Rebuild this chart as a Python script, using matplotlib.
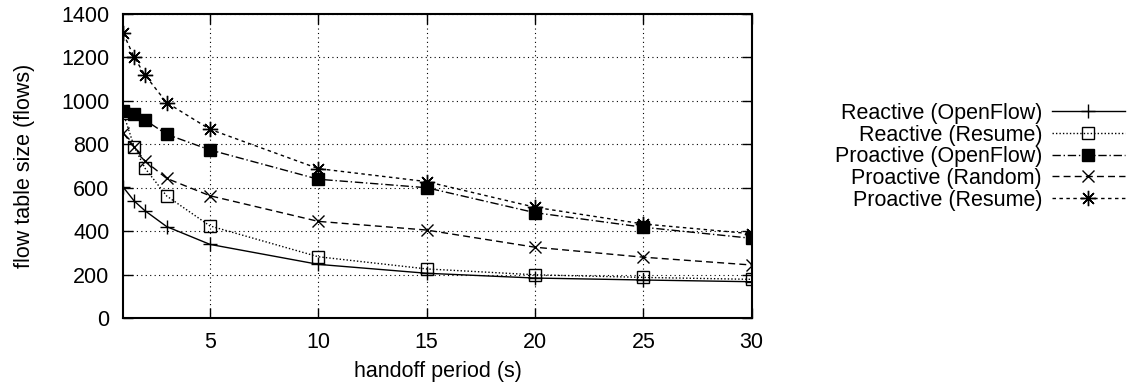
import matplotlib
matplotlib.use("Agg")
import matplotlib.pyplot as plt

plt.rcParams['font.family'] = ['Liberation Sans', 'DejaVu Sans']

x = [1, 1.5, 2, 3, 5, 10, 15, 20, 25, 30]
reactive_openflow = [602, 539, 494, 421, 339, 247, 206, 184, 175, 167]
reactive_resume = [943, 789, 690, 562, 424, 282, 226, 199, 187, 178]
proactive_openflow = [953, 938, 912, 846, 774, 639, 600, 485, 418, 367]
proactive_random = [851, 789, 723, 643, 563, 445, 405, 326, 280, 244]
proactive_resume = [1311, 1201, 1119, 992, 869, 688, 628, 510, 433, 388]

labels = ["Reactive (OpenFlow)", "Reactive (Resume)", "Proactive (OpenFlow)",
          "Proactive (Random)", "Proactive (Resume)"]
xticks = [5, 10, 15, 20, 25, 30]
yticks = [0, 200, 400, 600, 800, 1000, 1200, 1400]

FS = 15.5
fig = plt.figure(figsize=(11.37, 3.92), dpi=100)
ax = fig.add_axes([123.3/1137, 1-318/392, (751.7-123.3)/1137, (318-14)/392])

lw = 1.0
ax.plot(x, reactive_openflow, color='black', lw=lw, ls='-', marker='+', ms=10, mew=1.0, label=labels[0])
ax.plot(x, reactive_resume, color='black', lw=lw, ls=(0, (1, 1.5)), marker='s', ms=9, mfc='none', mew=1.0, label=labels[1])
ax.plot(x, proactive_openflow, color='black', lw=lw, ls=(0, (6, 2, 1, 2)), marker='s', ms=9, mfc='black', mew=1.0, label=labels[2])
ax.plot(x, proactive_random, color='black', lw=lw, ls=(0, (5, 3)), marker='x', ms=9, mew=1.0, label=labels[3])
ax.plot(x, proactive_resume, color='black', lw=lw, ls=(0, (2.5, 2.5)), marker=(8, 2, 0), ms=11, mew=1.0, label=labels[4])

ax.set_xlim(1, 30)
ax.set_ylim(0, 1400)
ax.set_xticks(xticks)
ax.set_yticks(yticks)
ax.tick_params(direction='in', length=7, width=1, labelsize=FS, top=True, right=True, pad=10)
ax.grid(True, color='black', ls=(0, (1, 3)), lw=0.8)
for s in ax.spines.values():
    s.set_linewidth(1.5)
ax.set_xlabel("handoff period (s)", fontsize=FS, labelpad=6)
ax.set_ylabel("flow table size (flows)", fontsize=FS, labelpad=19)

leg = fig.legend(loc='upper right', bbox_to_anchor=(1125/1137, 1-103/392), frameon=False,
                 markerfirst=False, fontsize=FS, handlelength=3.4, handletextpad=0.45,
                 labelspacing=0.03, borderpad=0, borderaxespad=0)
for t in leg.get_texts():
    t.set_ha('right')
leg._legend_box.align = 'right'

fig.savefig("out.png", dpi=100)
